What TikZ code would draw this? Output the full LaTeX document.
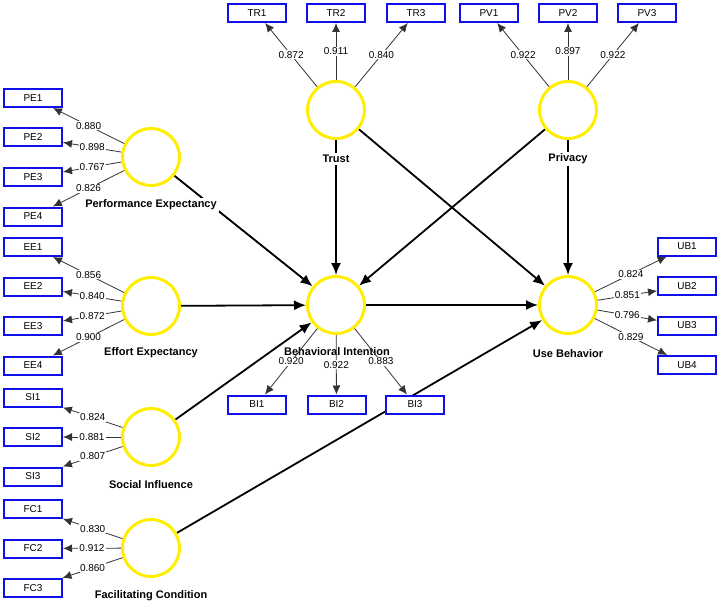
\documentclass[tikz,border=0pt]{standalone}
\usepackage{fontspec}
\setmainfont{Liberation Sans}
\usetikzlibrary{arrows.meta,backgrounds}
\definecolor{lvyellow}{RGB}{255,238,0}
\definecolor{mvblue}{RGB}{16,16,235}

\begin{document}
\begin{tikzpicture}[x=1pt,y=-1pt,inner sep=1pt,
  latent/.style={circle,draw=lvyellow,line width=3pt,fill=white,minimum size=57pt},
  item/.style={rectangle,draw=mvblue,line width=2pt,fill=white,minimum width=58pt,minimum height=18pt,font=\fontsize{10}{12}\selectfont},
  lvname/.style={fill=white,inner sep=2pt,font=\fontsize{11}{13}\selectfont\bfseries},
  struct/.style={-{Latex[length=12pt,width=10pt]},line width=1.8pt},
  loading/.style={-{Latex[length=9pt,width=8pt]},line width=0.8pt,draw=black!80},
  ldval/.style={fill=white,font=\fontsize{10}{12}\selectfont}]
\useasboundingbox (0,0) rectangle (719,604);
% latent variables
\node[latent] (pe) at (151,157) {};
\node[latent] (ee) at (151,306) {};
\node[latent] (si) at (151,437) {};
\node[latent] (fc) at (151,548) {};
\node[latent] (tr) at (336,110) {};
\node[latent] (pv) at (568,110) {};
\node[latent] (bi) at (336,305) {};
\node[latent] (ub) at (568,305) {};
\node[lvname] (pen) at (151,205) {Performance Expectancy};
\node[lvname] (een) at (151,353) {Effort Expectancy};
\node[lvname] (sin) at (151,485) {Social Influence};
\node[lvname] (fcn) at (151,596) {Facilitating Condition};
\node[lvname] (trn) at (336,159) {Trust};
\node[lvname] (pvn) at (568,159) {Privacy};
\node[lvname] (bin) at (337,352) {Behavioral Intention};
\node[lvname] (ubn) at (568,354) {Use Behavior};
%
\node[item] (pe1) at (33,98) {PE1};
\node[item] (pe2) at (33,137.5) {PE2};
\node[item] (pe3) at (33,177) {PE3};
\node[item] (pe4) at (33,216.5) {PE4};
\node[item] (ee1) at (33,247) {EE1};
\node[item] (ee2) at (33,286.5) {EE2};
\node[item] (ee3) at (33,326) {EE3};
\node[item] (ee4) at (33,365.5) {EE4};
\node[item] (si1) at (33,397.5) {SI1};
\node[item] (si2) at (33,437) {SI2};
\node[item] (si3) at (33,476.5) {SI3};
\node[item] (fc1) at (33,509) {FC1};
\node[item] (fc2) at (33,548.5) {FC2};
\node[item] (fc3) at (33,588) {FC3};
%
\node[item] (tr1) at (257,13) {TR1};
\node[item] (tr2) at (336,13) {TR2};
\node[item] (tr3) at (416,13) {TR3};
\node[item] (pv1) at (489,13) {PV1};
\node[item] (pv2) at (568,13) {PV2};
\node[item] (pv3) at (647,13) {PV3};
%
\node[item] (bi1) at (257,404.5) {BI1};
\node[item] (bi2) at (336.5,404.5) {BI2};
\node[item] (bi3) at (415,404.5) {BI3};
\node[item] (ub1) at (687,246.5) {UB1};
\node[item] (ub2) at (687,286) {UB2};
\node[item] (ub3) at (687,325.5) {UB3};
\node[item] (ub4) at (687,365) {UB4};
% inner model
\begin{pgfonlayer}{background}
\draw[struct] (pe) -- (bi);
\draw[struct] (ee) -- (bi);
\draw[struct] (si) -- (bi);
\draw[struct] (tr) -- (bi);
\draw[struct] (pv) -- (bi);
\draw[struct] (tr) -- (ub);
\draw[struct] (pv) -- (ub);
\draw[struct] (bi) -- (ub);
\draw[struct] (fc) -- (ub);
\end{pgfonlayer}
% outer model
\draw[loading] (pe) -- node[ldval] {0.880} (pe1);
\draw[loading] (pe) -- node[ldval] {0.898} (pe2);
\draw[loading] (pe) -- node[ldval] {0.767} (pe3);
\draw[loading] (pe) -- node[ldval] {0.826} (pe4);
\draw[loading] (ee) -- node[ldval] {0.856} (ee1);
\draw[loading] (ee) -- node[ldval] {0.840} (ee2);
\draw[loading] (ee) -- node[ldval] {0.872} (ee3);
\draw[loading] (ee) -- node[ldval] {0.900} (ee4);
\draw[loading] (si) -- node[ldval] {0.824} (si1);
\draw[loading] (si) -- node[ldval] {0.881} (si2);
\draw[loading] (si) -- node[ldval] {0.807} (si3);
\draw[loading] (fc) -- node[ldval] {0.830} (fc1);
\draw[loading] (fc) -- node[ldval] {0.912} (fc2);
\draw[loading] (fc) -- node[ldval] {0.860} (fc3);
\draw[loading] (tr) -- node[ldval] {0.872} (tr1);
\draw[loading] (tr) -- node[ldval] {0.911} (tr2);
\draw[loading] (tr) -- node[ldval] {0.840} (tr3);
\draw[loading] (pv) -- node[ldval] {0.922} (pv1);
\draw[loading] (pv) -- node[ldval] {0.897} (pv2);
\draw[loading] (pv) -- node[ldval] {0.922} (pv3);
\draw[loading] (bi) -- node[ldval] {0.920} (bi1);
\draw[loading] (bi) -- node[ldval] {0.922} (bi2);
\draw[loading] (bi) -- node[ldval] {0.883} (bi3);
\draw[loading] (ub) -- node[ldval] {0.824} (ub1);
\draw[loading] (ub) -- node[ldval] {0.851} (ub2);
\draw[loading] (ub) -- node[ldval] {0.796} (ub3);
\draw[loading] (ub) -- node[ldval] {0.829} (ub4);
\end{tikzpicture}
\end{document}
